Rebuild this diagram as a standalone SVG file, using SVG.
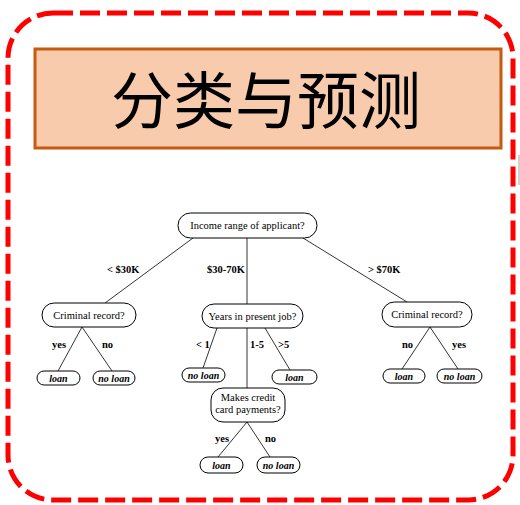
<svg xmlns="http://www.w3.org/2000/svg" width="520" height="505" viewBox="0 0 520 505">
<style>
.node rect{fill:#fff;stroke:#000;stroke-width:1}
.leaf rect{fill:#fff;stroke:#000;stroke-width:1}
.nt{font-family:"Liberation Serif",serif;font-size:10.5px;fill:#000;text-anchor:middle}
.lt{font-family:"Liberation Serif",serif;font-size:10px;font-weight:bold;font-style:italic;fill:#000;text-anchor:middle}
.el{font-family:"Liberation Serif",serif;font-size:10.5px;font-weight:bold;fill:#000}
#edges line{stroke:#000;stroke-width:0.8}
</style>
<rect width="520" height="505" fill="#fff"/>
<rect id="border" x="8" y="13" width="505" height="487" rx="45" fill="none" stroke="#ff0000" stroke-width="5" stroke-dasharray="20 7"/>
<line x1="519" y1="155" x2="519" y2="185" stroke="#b0a090" stroke-width="1"/>
<g id="title">
<rect x="35" y="49" width="466" height="99" fill="#f8cbad" stroke="#c55a11" stroke-width="3"/>
<text x="266" y="124" font-family="'Noto Sans CJK SC',sans-serif" font-size="62" text-anchor="middle" fill="#000">分类与预测</text>
</g>
<g id="edges">
<line x1="193" y1="238" x2="105" y2="303"/>
<line x1="247" y1="238" x2="247" y2="304"/>
<line x1="303" y1="238" x2="407" y2="302"/>
<line x1="82" y1="327" x2="58" y2="371"/>
<line x1="82" y1="327" x2="112" y2="371"/>
<line x1="217" y1="328" x2="203" y2="368"/>
<line x1="247" y1="328" x2="247" y2="388"/>
<line x1="265" y1="328" x2="290" y2="370"/>
<line x1="430" y1="327" x2="402" y2="369"/>
<line x1="430" y1="327" x2="458" y2="369"/>
<line x1="247" y1="422" x2="218" y2="457"/>
<line x1="247" y1="422" x2="270" y2="457"/>
<text class="el" x="107" y="273">&lt; $30K</text>
<text class="el" x="207" y="273">$30-70K</text>
<text class="el" x="368" y="273">&gt; $70K</text>
<text class="el" x="52" y="348">yes</text>
<text class="el" x="102" y="348">no</text>
<text class="el" x="196" y="348">&lt; 1</text>
<text class="el" x="250" y="348">1-5</text>
<text class="el" x="278" y="348">&gt;5</text>
<text class="el" x="402" y="348">no</text>
<text class="el" x="452" y="348">yes</text>
<text class="el" x="215" y="442">yes</text>
<text class="el" x="265" y="442">no</text>
</g>
<g id="root" class="node"><rect x="178" y="213" width="139" height="25" rx="12.5"/><text class="nt" x="247.5" y="229">Income range of applicant?</text></g>
<g id="crimL" class="node"><rect x="42" y="303" width="94" height="24" rx="12"/><text class="nt" x="89" y="319">Criminal record?</text></g>
<g id="years" class="node"><rect x="202" y="304" width="101" height="24" rx="12"/><text class="nt" x="252.5" y="320">Years in present job?</text></g>
<g id="crimR" class="node"><rect x="382" y="302" width="90" height="25" rx="12.5"/><text class="nt" x="427" y="318">Criminal record?</text></g>
<g id="makes" class="node"><rect x="211" y="388" width="74" height="34" rx="12"/><text class="nt" x="248" y="401">Makes credit</text><text class="nt" x="248" y="413">card payments?</text></g>
<g id="leaf1" class="leaf"><rect x="37" y="371" width="43" height="14" rx="7"/><text class="lt" x="58.5" y="381.5">loan</text></g>
<g id="leaf2" class="leaf"><rect x="93" y="371" width="42" height="14" rx="7"/><text class="lt" x="114" y="381.5">no loan</text></g>
<g id="leaf3" class="leaf"><rect x="182" y="368" width="43" height="14" rx="7"/><text class="lt" x="203.5" y="378.5">no loan</text></g>
<g id="leaf4" class="leaf"><rect x="272" y="370" width="45" height="14" rx="7"/><text class="lt" x="294.5" y="380.5">loan</text></g>
<g id="leaf5" class="leaf"><rect x="383" y="369" width="42" height="14" rx="7"/><text class="lt" x="404" y="379.5">loan</text></g>
<g id="leaf6" class="leaf"><rect x="437" y="369" width="45" height="14" rx="7"/><text class="lt" x="459.5" y="379.5">no loan</text></g>
<g id="leaf7" class="leaf"><rect x="200" y="457" width="43" height="16" rx="8"/><text class="lt" x="221.5" y="468.5">loan</text></g>
<g id="leaf8" class="leaf"><rect x="257" y="457" width="43" height="16" rx="8"/><text class="lt" x="278.5" y="468.5">no loan</text></g>
</svg>
